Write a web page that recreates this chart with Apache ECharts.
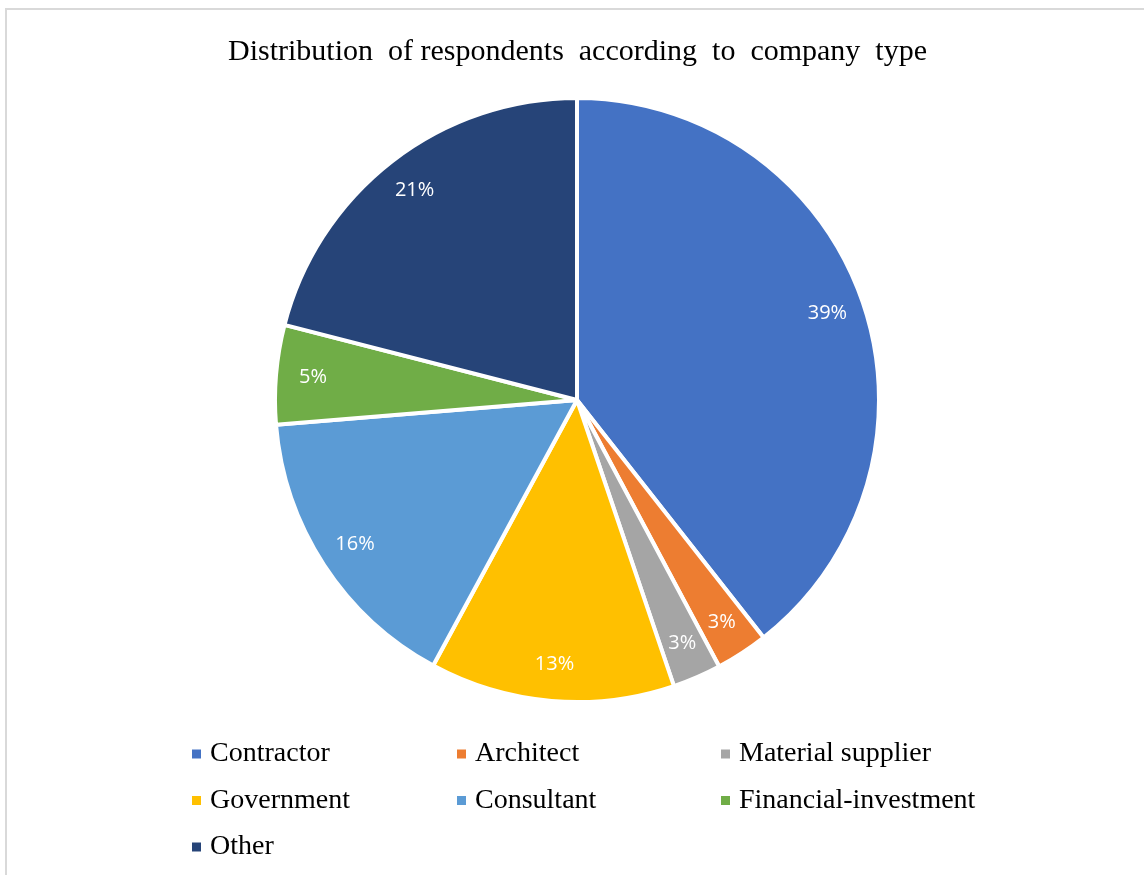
<!DOCTYPE html>
<html>
<head>
<meta charset="utf-8">
<script src="https://cdn.jsdelivr.net/npm/echarts@6/dist/echarts.min.js"></script>
<style>
html,body{margin:0;padding:0;background:#fff;}
#chart{width:1144px;height:875px;}
</style>
</head>
<body>
<div id="chart"></div>
<script>
const titleText = 'Distribution  of respondents  according  to  company  type';
const categories = ['Contractor', 'Architect', 'Material supplier', 'Government', 'Consultant', 'Financial-investment', 'Other'];
const values = [39.4, 2.8, 2.6, 13.1, 15.8, 5.3, 21.0];
const colors = ['#4472C4', '#ED7D31', '#A5A5A5', '#FFC000', '#5B9BD5', '#70AD47', '#264478'];
const legendCol1 = ['Contractor', 'Government', 'Other'];
const legendCol2 = ['Architect', 'Consultant'];
const legendCol3 = ['Material supplier', 'Financial-investment'];

const chart = echarts.init(document.getElementById('chart'), null, {renderer: 'canvas'});
const pieData = categories.map((c, i) => ({name: c, value: values[i], itemStyle: {color: colors[i]}}));
const labelData = categories.map((c, i) => ({name: c, value: values[i]}));

const legendBase = {
  orient: 'vertical',
  top: 735,
  padding: 5,
  itemWidth: 9,
  itemHeight: 9,
  itemGap: 18.5,
  icon: 'rect',
  selectedMode: false,
  itemStyle: {borderWidth: 0},
  textStyle: {fontFamily: 'Liberation Serif', fontSize: 28, lineHeight: 28, color: '#000', padding: [0, 0, 0, 4]}
};

chart.setOption({
  backgroundColor: '#fff',
  animation: false,
  title: {
    text: titleText,
    left: 223,
    top: 32,
    textStyle: {fontFamily: 'Liberation Serif', fontSize: 30, fontWeight: 'normal', color: '#000'}
  },
  legend: [
    Object.assign({}, legendBase, {left: 187, data: legendCol1}),
    Object.assign({}, legendBase, {left: 452, data: legendCol2}),
    Object.assign({}, legendBase, {left: 716, data: legendCol3})
  ],
  graphic: [{
    type: 'rect',
    shape: {x: 6, y: 9, width: 3000, height: 3000},
    style: {fill: 'none', stroke: '#d9d9d9', lineWidth: 2},
    silent: true
  }],
  series: [
    {
      type: 'pie',
      center: [577, 400],
      radius: [0, 302],
      startAngle: 90,
      clockwise: true,
      data: pieData,
      label: {show: false},
      labelLine: {show: false},
      itemStyle: {borderColor: '#fff', borderWidth: 4},
      emphasis: {disabled: true},
      silent: true
    },
    {
      type: 'pie',
      center: [577, 400],
      radius: [222, 302],
      startAngle: 90,
      clockwise: true,
      data: labelData,
      itemStyle: {color: 'rgba(0,0,0,0)'},
      label: {
        show: true,
        position: 'inside',
        fontFamily: 'Open Sans',
        fontSize: 20,
        color: '#fff',
        formatter: p => Math.round(p.percent) + '%'
      },
      labelLine: {show: false},
      emphasis: {disabled: true},
      silent: true
    }
  ]
});
</script>
</body>
</html>
